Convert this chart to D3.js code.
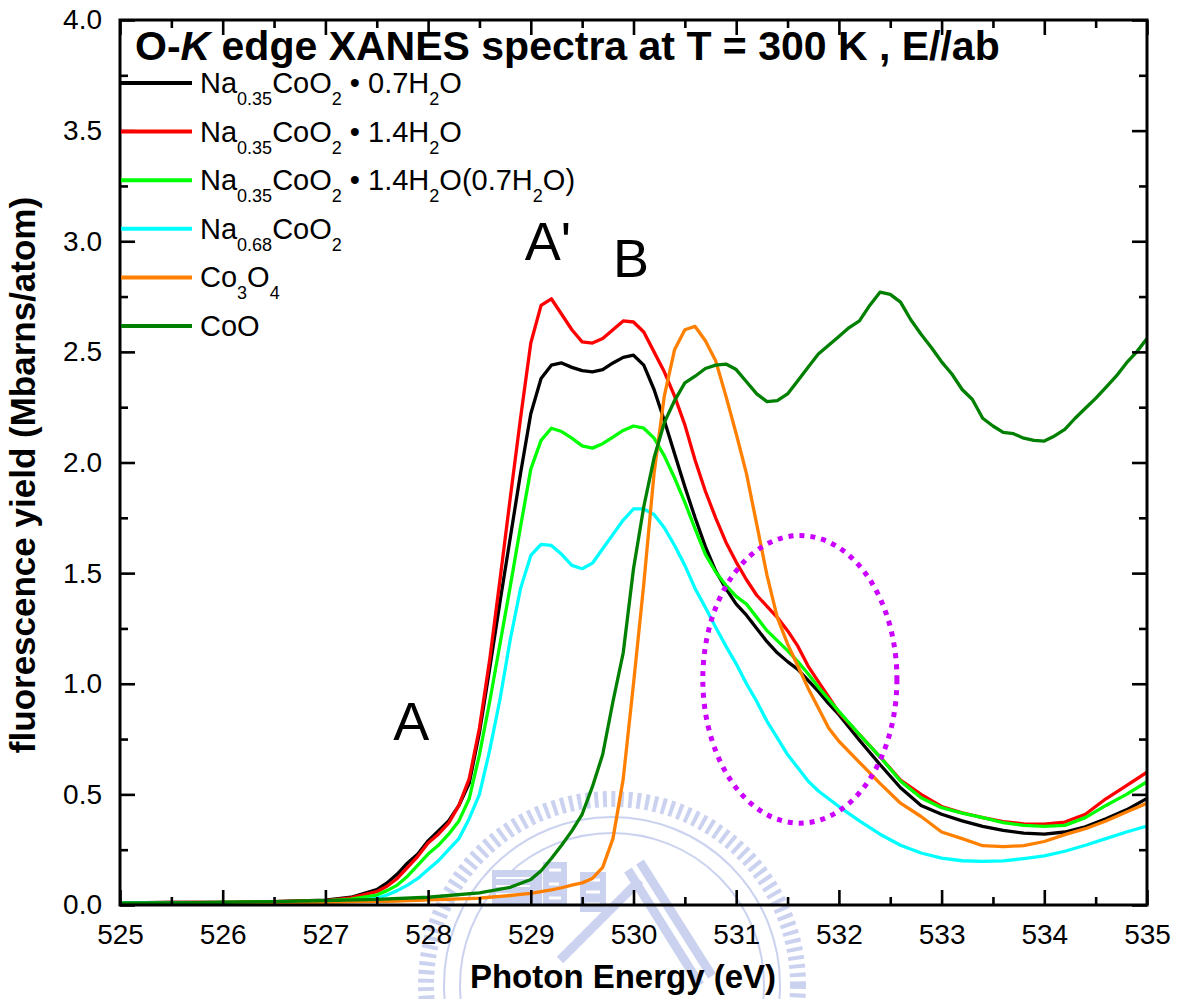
<!DOCTYPE html>
<html>
<head>
<meta charset="utf-8">
<script src="https://cdn.jsdelivr.net/npm/d3@7"></script>
<style>
  body { margin: 0; background: #fff; }
  svg { display: block; }
  text { font-family: "Liberation Sans", Arial, Helvetica, sans-serif; }
</style>
</head>
<body>
<svg id="chart" width="1183" height="999"></svg>
<script>
// Photon energy grid (eV) shared by the first five spectra
const energy = [525, 525.5, 526, 526.5, 527, 527.25,
  527.5, 527.6, 527.7, 527.8, 527.9,
  528.0, 528.1, 528.2, 528.3, 528.4, 528.5, 528.6, 528.7, 528.8, 528.9,
  529.0, 529.1, 529.2, 529.3, 529.4, 529.5, 529.6, 529.7, 529.8, 529.9,
  530.0, 530.1, 530.2, 530.3, 530.4, 530.5, 530.6, 530.7, 530.8, 530.9,
  531.0, 531.1, 531.2, 531.3, 531.4, 531.5, 531.6, 531.7, 531.8, 531.9,
  532.0, 532.2, 532.4, 532.6, 532.8, 533.0, 533.2, 533.4, 533.6, 533.8, 534.0, 534.2, 534.4, 534.6, 534.8, 535.0];

// Fluorescence yield (Mbarns/atom)
const naCoO2_07H2O = [0.010, 0.012, 0.012, 0.015, 0.022, 0.035,
  0.07, 0.10, 0.14, 0.19, 0.23,
  0.29, 0.335, 0.38, 0.45, 0.55, 0.78, 1.07, 1.37, 1.66, 1.95,
  2.22, 2.38, 2.44, 2.45, 2.43, 2.415, 2.41, 2.42, 2.45, 2.475,
  2.485, 2.44, 2.33, 2.19, 2.04, 1.89, 1.75, 1.62, 1.51, 1.43,
  1.36, 1.31, 1.25, 1.19, 1.14, 1.10, 1.065, 1.015, 0.965, 0.91,
  0.86, 0.745, 0.635, 0.53, 0.45, 0.41, 0.38, 0.355, 0.337, 0.325, 0.32, 0.33, 0.353, 0.39, 0.43, 0.482];

const naCoO2_14H2O = [0.010, 0.012, 0.012, 0.015, 0.020, 0.032,
  0.06, 0.085, 0.12, 0.17, 0.22,
  0.28, 0.32, 0.37, 0.45, 0.57, 0.80, 1.11, 1.47, 1.84, 2.20,
  2.54, 2.71, 2.74, 2.67, 2.60, 2.545, 2.54, 2.56, 2.60, 2.64,
  2.635, 2.59, 2.50, 2.41, 2.30, 2.17, 2.01, 1.87, 1.75, 1.64,
  1.55, 1.47, 1.40, 1.35, 1.30, 1.24, 1.17, 1.08, 1.01, 0.94,
  0.87, 0.77, 0.67, 0.565, 0.50, 0.445, 0.417, 0.395, 0.377, 0.367, 0.365, 0.375, 0.41, 0.48, 0.54, 0.60];

const naCoO2_14H2O_07 = [0.010, 0.010, 0.012, 0.014, 0.018, 0.026,
  0.045, 0.065, 0.09, 0.13, 0.18,
  0.23, 0.27, 0.32, 0.38, 0.48, 0.68, 0.92, 1.18, 1.44, 1.71,
  1.97, 2.10, 2.155, 2.14, 2.11, 2.075, 2.065, 2.085, 2.115, 2.145,
  2.165, 2.155, 2.11, 2.03, 1.93, 1.82, 1.70, 1.585, 1.505, 1.445,
  1.395, 1.36, 1.30, 1.24, 1.195, 1.15, 1.10, 1.045, 0.985, 0.93,
  0.875, 0.77, 0.67, 0.56, 0.485, 0.44, 0.415, 0.395, 0.372, 0.36, 0.355, 0.36, 0.395, 0.45, 0.50, 0.557];

const na068CoO2 = [0.008, 0.008, 0.010, 0.010, 0.012, 0.018,
  0.03, 0.045, 0.065, 0.09, 0.12,
  0.16, 0.20, 0.25, 0.30, 0.39, 0.50, 0.70, 0.93, 1.20, 1.43,
  1.58, 1.63, 1.625, 1.585, 1.535, 1.52, 1.545, 1.61, 1.675, 1.74,
  1.79, 1.79, 1.765, 1.705, 1.625, 1.535, 1.43, 1.345, 1.255, 1.17,
  1.09, 1.00, 0.92, 0.83, 0.755, 0.68, 0.62, 0.56, 0.515, 0.48,
  0.445, 0.38, 0.32, 0.27, 0.235, 0.212, 0.20, 0.197, 0.199, 0.21, 0.222, 0.243, 0.27, 0.30, 0.33, 0.357];

const co3O4 = [0.005, 0.006, 0.008, 0.010, 0.012, 0.014,
  0.016, 0.017, 0.018, 0.020, 0.021,
  0.023, 0.024, 0.026, 0.028, 0.029, 0.031, 0.035, 0.039, 0.043, 0.048,
  0.053, 0.060, 0.068, 0.078, 0.090, 0.100, 0.12, 0.17, 0.30, 0.57,
  1.00, 1.45, 1.95, 2.30, 2.51, 2.60, 2.615, 2.55, 2.46, 2.30,
  2.13, 1.95, 1.72, 1.49, 1.30, 1.18, 1.08, 0.98, 0.89, 0.80,
  0.74, 0.645, 0.55, 0.46, 0.40, 0.33, 0.30, 0.268, 0.264, 0.268, 0.287, 0.318, 0.345, 0.38, 0.42, 0.46];

// CoO is sampled on its own, finer grid above the edge
const energyCoO = [525, 525.5, 526, 526.5, 527, 527.5, 528, 528.5, 528.8,
  529.0, 529.1, 529.2, 529.3, 529.4, 529.5, 529.6, 529.7, 529.8, 529.9,
  530.0, 530.1, 530.2, 530.3, 530.4, 530.5, 530.6, 530.7, 530.8, 530.9,
  531.0, 531.1, 531.2, 531.3, 531.4, 531.5, 531.6, 531.7, 531.8, 531.9,
  532.0, 532.1, 532.2, 532.3, 532.4, 532.5, 532.6, 532.7, 532.8, 532.9,
  533.0, 533.1, 533.2, 533.3, 533.4, 533.5, 533.6, 533.7, 533.8, 533.9,
  534.0, 534.1, 534.2, 534.3, 534.4, 534.5, 534.6, 534.7, 534.8, 534.9,
  535.0];

const coO = [0.008, 0.010, 0.012, 0.015, 0.020, 0.025, 0.035, 0.055, 0.080,
  0.115, 0.155, 0.21, 0.27, 0.335, 0.41, 0.535, 0.68, 0.92, 1.14,
  1.52, 1.80, 2.02, 2.18, 2.28, 2.36, 2.39, 2.425, 2.44, 2.445,
  2.42, 2.365, 2.31, 2.275, 2.28, 2.31, 2.37, 2.43, 2.49, 2.53,
  2.57, 2.61, 2.64, 2.71, 2.77, 2.76, 2.725, 2.645, 2.58, 2.52,
  2.455, 2.40, 2.33, 2.285, 2.20, 2.165, 2.136, 2.13, 2.11, 2.10,
  2.097, 2.12, 2.15, 2.20, 2.245, 2.29, 2.34, 2.39, 2.45, 2.50,
  2.56];

const seriesLabels = [
  "Na_{0.35}CoO_{2} \u2022 0.7H_{2}O",
  "Na_{0.35}CoO_{2} \u2022 1.4H_{2}O",
  "Na_{0.35}CoO_{2} \u2022 1.4H_{2}O(0.7H_{2}O)",
  "Na_{0.68}CoO_{2}",
  "Co_{3}O_{4}",
  "CoO"
];
const seriesColors = ["#000000", "#ff0000", "#00ff00", "#00ffff", "#ff8000", "#008000"];

const xMajorTicks = [525, 526, 527, 528, 529, 530, 531, 532, 533, 534, 535];
const xMinorTicks = [525.5, 526.5, 527.5, 528.5, 529.5, 530.5, 531.5, 532.5, 533.5, 534.5];
const yMajorTicks = [0, 0.5, 1.0, 1.5, 2.0, 2.5, 3.0, 3.5, 4.0];
const yMinorTicks = [0.25, 0.75, 1.25, 1.75, 2.25, 2.75, 3.25, 3.75];

// Peak labels and the highlighted region (energy, yield)
const peakLabels = [
  { text: "A", e: 527.66, v: 0.746 },
  { text: "A'", e: 528.94, v: 2.915 },
  { text: "B", e: 529.80, v: 2.84 }
];
const highlight = { e: 531.62, v: 1.02, de: 0.945, dv: 0.65 };

// ---------------------------------------------------------------
const svg = d3.select("#chart");
const M = { left: 120, right: 1147, top: 20, bottom: 905 };

const x = d3.scaleLinear().domain([525, 535]).range([M.left, M.right]);
const y = d3.scaleLinear().domain([0, 4]).range([M.bottom, M.top]);

// faint emblem behind the plot
const wmColor = "#b6c0ea";
const wm = svg.append("g").attr("fill", "none").attr("stroke", wmColor).attr("opacity", 0.7);
const wmC = { x: 612, y: 985 };
wm.append("circle").attr("cx", wmC.x).attr("cy", wmC.y).attr("r", 186)
  .attr("stroke-width", 16).attr("stroke-dasharray", "4 4.5");
wm.append("circle").attr("cx", wmC.x).attr("cy", wmC.y).attr("r", 168).attr("stroke-width", 2);
wm.append("circle").attr("cx", wmC.x).attr("cy", wmC.y).attr("r", 152).attr("stroke-width", 2);
wm.append("rect").attr("x", 492).attr("y", 870).attr("width", 50).attr("height", 36)
  .attr("fill", wmColor).attr("stroke", "none");
[878, 886, 894].forEach(yy => wm.append("line").attr("x1", 496).attr("x2", 530)
  .attr("y1", yy).attr("y2", yy).attr("stroke", "#fff").attr("stroke-width", 2));
wm.append("rect").attr("x", 543).attr("y", 862).attr("width", 24).attr("height", 44)
  .attr("fill", wmColor).attr("stroke", "none");
wm.append("rect").attr("x", 580).attr("y", 872).attr("width", 26).attr("height", 40)
  .attr("fill", wmColor).attr("stroke", "none");
wm.append("path").attr("d", "M549,870 h12 M549,884 h10 M549,898 h12 M586,880 h14 M586,892 h14 M586,904 h14")
  .attr("stroke", "#fff").attr("stroke-width", 3);
wm.append("path").attr("d", "M628,870 L700,985 M640,862 L712,976 M560,960 L640,880")
  .attr("stroke-width", 9);

// clip for spectra
svg.append("defs").append("clipPath").attr("id", "plotClip")
  .append("rect").attr("x", M.left).attr("y", M.top)
  .attr("width", M.right - M.left).attr("height", M.bottom - M.top);

const seriesData = [
  d3.zip(energy, naCoO2_07H2O),
  d3.zip(energy, naCoO2_14H2O),
  d3.zip(energy, naCoO2_14H2O_07),
  d3.zip(energy, na068CoO2),
  d3.zip(energy, co3O4),
  d3.zip(energyCoO, coO)
];

const line = d3.line().x(d => x(d[0])).y(d => y(d[1]));

svg.append("g").attr("clip-path", "url(#plotClip)")
  .selectAll("path").data(seriesData).join("path")
  .attr("d", line)
  .attr("fill", "none")
  .attr("stroke", (d, i) => seriesColors[i])
  .attr("stroke-width", 3.3)
  .attr("stroke-linejoin", "round");

// dotted ellipse marking the region of interest
svg.append("ellipse")
  .attr("cx", x(highlight.e)).attr("cy", y(highlight.v))
  .attr("rx", x(highlight.e + highlight.de) - x(highlight.e))
  .attr("ry", y(highlight.v - highlight.dv) - y(highlight.v))
  .attr("fill", "none").attr("stroke", "#cc00ff")
  .attr("stroke-width", 5).attr("stroke-dasharray", "5 6");

// axes: ticks point inward on all four sides
function styleAxis(g) {
  g.select(".domain").remove();
  g.selectAll(".tick line").attr("stroke", "#000").attr("stroke-width", 2.6);
  g.selectAll(".tick text").attr("font-size", 28).attr("fill", "#000")
    .attr("font-family", "'Liberation Sans', Arial, sans-serif");
}

svg.append("g").attr("transform", `translate(0,${M.bottom})`)
  .call(d3.axisBottom(x).tickValues(xMajorTicks).tickSize(-15).tickPadding(19).tickFormat(d3.format("d")))
  .call(styleAxis);
svg.append("g").attr("transform", `translate(0,${M.bottom})`)
  .call(d3.axisBottom(x).tickValues(xMinorTicks).tickSize(-8).tickFormat(""))
  .call(styleAxis);
svg.append("g").attr("transform", `translate(0,${M.top})`)
  .call(d3.axisTop(x).tickValues(xMajorTicks).tickSize(-15).tickFormat(""))
  .call(styleAxis);
svg.append("g").attr("transform", `translate(0,${M.top})`)
  .call(d3.axisTop(x).tickValues(xMinorTicks).tickSize(-8).tickFormat(""))
  .call(styleAxis);

svg.append("g").attr("transform", `translate(${M.left},0)`)
  .call(d3.axisLeft(y).tickValues(yMajorTicks).tickSize(-15).tickPadding(18).tickFormat(d3.format(".1f")))
  .call(styleAxis);
svg.append("g").attr("transform", `translate(${M.left},0)`)
  .call(d3.axisLeft(y).tickValues(yMinorTicks).tickSize(-8).tickFormat(""))
  .call(styleAxis);
svg.append("g").attr("transform", `translate(${M.right},0)`)
  .call(d3.axisRight(y).tickValues(yMajorTicks).tickSize(-15).tickFormat(""))
  .call(styleAxis);
svg.append("g").attr("transform", `translate(${M.right},0)`)
  .call(d3.axisRight(y).tickValues(yMinorTicks).tickSize(-8).tickFormat(""))
  .call(styleAxis);

// frame
svg.append("rect").attr("x", M.left).attr("y", M.top)
  .attr("width", M.right - M.left).attr("height", M.bottom - M.top)
  .attr("fill", "none").attr("stroke", "#000").attr("stroke-width", 3);

// axis titles
svg.append("text").attr("x", 623).attr("y", 988).attr("text-anchor", "middle")
  .attr("font-size", 33).attr("font-weight", "bold").text("Photon Energy (eV)");
svg.append("text").attr("transform", "translate(35,475) rotate(-90)")
  .attr("text-anchor", "middle").attr("font-size", 35).attr("font-weight", "bold")
  .text("fluorescence yield (Mbarns/atom)");

// title
const title = svg.append("text").attr("x", 135).attr("y", 60)
  .attr("font-size", 41).attr("font-weight", "bold");
title.append("tspan").text("O-");
title.append("tspan").attr("font-style", "italic").text("K");
title.append("tspan").text(" edge XANES spectra at T = 300 K , E//ab");

// peak labels
svg.selectAll("text.peak").data(peakLabels).join("text").attr("class", "peak")
  .attr("x", d => x(d.e)).attr("y", d => y(d.v))
  .attr("font-size", 54).text(d => d.text);

// legend
const legend = svg.append("g");
const legTop = 83, legStep = 48.6;
seriesLabels.forEach((lab, i) => {
  const ly = legTop + i * legStep;
  legend.append("line").attr("x1", 121).attr("x2", 192).attr("y1", ly).attr("y2", ly)
    .attr("stroke", seriesColors[i]).attr("stroke-width", 4);
  const t = legend.append("text").attr("x", 200).attr("y", ly + 10).attr("font-size", 29);
  const parts = lab.split(/(_\{[^}]*\})/).filter(s => s.length);
  let shifted = false;
  parts.forEach(p => {
    if (p.startsWith("_{")) {
      t.append("tspan").attr("font-size", 18).attr("dy", shifted ? 0 : 12).text(p.slice(2, -1));
      shifted = true;
    } else {
      t.append("tspan").attr("dy", shifted ? -12 : 0).text(p);
      shifted = false;
    }
  });
});
</script>
</body>
</html>
